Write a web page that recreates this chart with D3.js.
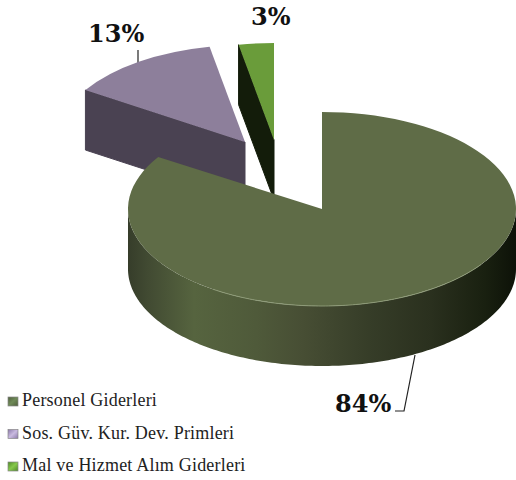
<html>
    <head>
        <meta charset="utf-8">
        <script src="https://d3js.org/d3.v7.min.js"></script>
        <style>
            html, body { margin: 0; padding: 0; background: #fff; }
            svg { display: block; }
        </style>
    </head>
    <body>
        <svg id="p1" width="516" height="480"></svg>
        <script>
            const categories = ['Personel Giderleri', 'Sos. Güv. Kur. Dev. Primleri', 'Mal ve Hizmet Alım Giderleri'];
            const percents = [84, 13, 3];

            const topColors = ['#5f6c47', '#8d7f9b', '#6a9c3a'];
            const sideColors = ['#3c4430', '#4a4252', '#131c0a'];
            const swatchLight = ['#6f8a58', '#c9bae0', '#86c84c'];
            const swatchDark = ['#4f5e3c', '#8a78a8', '#4f8a28'];

            const svg = d3.select('svg#p1');
            const rx = [194, 189, 189], ry = 97, depth = 60;
            // apex of each slice, the two small ones are pulled out
            const apex = [[322, 209], [245, 142], [274, 140]];
            const labelAt = [[335, 412], [88, 42], [251, 25]];

            const pie = d3.pie().sort(null).value(d => d);
            const arcs = pie(percents);

            const ptX = (i, a) => apex[i][0] + rx[i] * Math.sin(a);
            const ptY = (i, a) => apex[i][1] - ry * Math.cos(a);

            const defs = svg.append('defs');
            const wallGrad = defs.append('linearGradient')
                                 .attr('id', 'wall')
                                 .attr('gradientUnits', 'userSpaceOnUse')
                                 .attr('x1', 128).attr('x2', 516).attr('y1', 0).attr('y2', 0);
            [[0, '#363d2a'], [0.05, '#414a32'], [0.17, '#56643f'], [0.33, '#4f5a3a'],
             [0.45, '#474e34'], [0.62, '#363d28'], [0.78, '#2a301e'], [0.92, '#192010'], [1, '#0d1208']]
                .forEach(s => wallGrad.append('stop').attr('offset', s[0]).attr('stop-color', s[1]));

            categories.forEach((c, i) => {
                const g = defs.append('linearGradient')
                              .attr('id', 'sw' + i)
                              .attr('x1', 0).attr('y1', 0).attr('x2', 1).attr('y2', 1);
                g.append('stop').attr('offset', 0).attr('stop-color', swatchDark[i]);
                g.append('stop').attr('offset', 0.5).attr('stop-color', swatchLight[i]);
                g.append('stop').attr('offset', 1).attr('stop-color', swatchDark[i]);
            });

            const chart = svg.append('g').attr('id', 'chart');

            // leader of the 13% label sits behind the slice
            const leader = d3.line();
            chart.append('path')
                 .attr('d', leader([[138, 50], [138, 66]]))
                 .attr('fill', 'none').attr('stroke', '#222').attr('stroke-width', 1.2);

            // cut face of a slice, from the rim at angle a down to the apex
            function cutFace(i, a) {
                const p = [[ptX(i, a), ptY(i, a)], apex[i],
                           [apex[i][0], apex[i][1] + depth], [ptX(i, a), ptY(i, a) + depth]];
                return leader(p) + 'Z';
            }

            // draw back to front
            [1, 2, 0].forEach(i => {
                const d = arcs[i];
                const slice = chart.append('g').attr('class', 'slice');

                if (i === 0) {
                    const wall = d3.area()
                                   .x(a => ptX(0, a))
                                   .y0(a => ptY(0, a))
                                   .y1(a => ptY(0, a) + depth);
                    const angles = d3.range(90, 270.5, 1).map(a => a * Math.PI / 180);
                    slice.append('path')
                         .attr('d', wall(angles))
                         .attr('fill', 'url(#wall)');
                } else {
                    slice.append('path')
                         .attr('d', cutFace(i, d.startAngle))
                         .attr('fill', sideColors[i])
                         .attr('stroke', sideColors[i])
                         .attr('stroke-width', 1)
                         .attr('stroke-linejoin', 'round');
                }

                slice.append('path')
                     .attr('d', d3.arc().innerRadius(0).outerRadius(rx[i])(d))
                     .attr('transform', `translate(${apex[i][0]},${apex[i][1]}) scale(1,${ry / rx[i]})`)
                     .attr('fill', topColors[i]);

                if (i === 0) {
                    // pale rim along the front edge of the top face
                    const rim = d3.line().x(a => ptX(0, a)).y(a => ptY(0, a));
                    slice.append('path')
                         .attr('d', rim(d3.range(125, 215, 1).map(a => a * Math.PI / 180)))
                         .attr('fill', 'none')
                         .attr('stroke', '#8f9c78')
                         .attr('stroke-width', 0.9);
                }
            });

            chart.append('path')
                 .attr('d', leader([[415, 355], [404, 411], [395, 411]]))
                 .attr('fill', 'none').attr('stroke', '#222').attr('stroke-width', 1.2);

            chart.selectAll('text.pct').data(percents)
                 .join('text')
                 .attr('class', 'pct')
                 .attr('x', (d, i) => labelAt[i][0])
                 .attr('y', (d, i) => labelAt[i][1])
                 .attr('font-family', 'DejaVu Serif')
                 .attr('font-weight', 'bold')
                 .attr('font-size', 24)
                 .attr('fill', '#111')
                 .text(d => d + '%');

            const legendY = d3.scalePoint().domain(categories).range([406, 471]);
            const legend = svg.append('g').attr('id', 'legend');
            legend.selectAll('rect').data(categories)
                  .join('rect')
                  .attr('x', 8).attr('y', d => legendY(d) - 9)
                  .attr('width', 10).attr('height', 9)
                  .attr('fill', (d, i) => `url(#sw${i})`)
                  .attr('stroke', '#888').attr('stroke-width', 0.7);
            legend.selectAll('text').data(categories)
                  .join('text')
                  .attr('x', 22).attr('y', d => legendY(d))
                  .attr('font-family', 'Liberation Serif')
                  .attr('font-size', 18)
                  .attr('letter-spacing', 0.2)
                  .attr('fill', '#222')
                  .text(d => d);
        </script>
    </body>
</html>
